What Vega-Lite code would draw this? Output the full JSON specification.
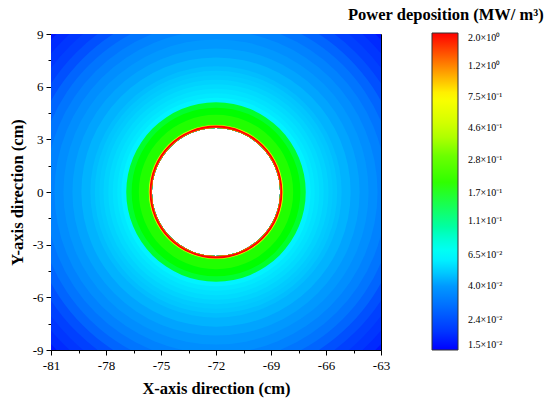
{
  "$schema": "https://vega.github.io/schema/vega-lite/v6.json",
  "width": 330,
  "height": 316,
  "autosize": {"type": "none"},
  "padding": {"left": 51, "top": 34, "right": 169, "bottom": 59},
  "background": "white",
  "title": {
    "text": "Power deposition (MW/ m³)",
    "anchor": "start",
    "frame": "group",
    "dx": 297,
    "offset": 5,
    "font": "Liberation Serif",
    "fontSize": 16.5,
    "fontWeight": "bold",
    "color": "black"
  },
  "data": {
    "values": [
      {"r": 13.0, "v": 0.016},
      {"r": 12.5, "v": 0.018},
      {"r": 12.0, "v": 0.020},
      {"r": 11.5, "v": 0.022},
      {"r": 11.0, "v": 0.025},
      {"r": 10.5, "v": 0.028},
      {"r": 10.0, "v": 0.031},
      {"r": 9.5, "v": 0.034},
      {"r": 9.0, "v": 0.037},
      {"r": 8.5, "v": 0.040},
      {"r": 8.0, "v": 0.042},
      {"r": 7.5, "v": 0.045},
      {"r": 7.0, "v": 0.047},
      {"r": 6.75, "v": 0.049},
      {"r": 6.5, "v": 0.050},
      {"r": 6.25, "v": 0.052},
      {"r": 6.0, "v": 0.054},
      {"r": 5.75, "v": 0.056},
      {"r": 5.5, "v": 0.058},
      {"r": 5.25, "v": 0.061},
      {"r": 5.0, "v": 0.16},
      {"r": 4.7, "v": 0.17},
      {"r": 4.3, "v": 0.185},
      {"r": 3.78, "v": 0.2},
      {"r": 3.73, "v": 0.6},
      {"r": 3.7, "v": 2.0},
      {"r": 3.6, "v": 1.5}
    ]
  },
  "mark": {"type": "arc", "clip": true, "theta": 0, "theta2": 6.2832},
  "encoding": {
    "x": {
      "datum": -72,
      "type": "quantitative",
      "scale": {"domain": [-81, -63], "nice": false, "zero": false},
      "axis": {
        "title": "X-axis direction (cm)",
        "values": [-81, -79.5, -78, -76.5, -75, -73.5, -72, -70.5, -69, -67.5, -66, -64.5, -63],
        "labelExpr": "abs(datum.value % 3) < 0.01 ? '' + datum.value : ''",
        "tickSize": {"condition": {"test": "abs(datum.value % 3) < 0.01", "value": 5}, "value": 3},
        "labelPadding": 4,
        "titlePadding": 8
      }
    },
    "y": {
      "datum": 0,
      "type": "quantitative",
      "scale": {"domain": [-9, 9], "nice": false, "zero": false},
      "axis": {
        "title": "Y-axis direction (cm)",
        "values": [-9, -7.5, -6, -4.5, -3, -1.5, 0, 1.5, 3, 4.5, 6, 7.5, 9],
        "labelExpr": "abs(datum.value % 3) < 0.01 ? '' + datum.value : ''",
        "tickSize": {"condition": {"test": "abs(datum.value % 3) < 0.01", "value": 5}, "value": 3},
        "labelPadding": 3,
        "titlePadding": 7
      }
    },
    "radius": {
      "field": "r",
      "type": "quantitative",
      "scale": {"type": "linear", "domain": [0, 13], "range": [0, 233.35], "zero": true}
    },
    "radius2": {"datum": 3.57},
    "color": {
      "field": "v",
      "type": "quantitative",
      "scale": {
        "type": "log",
        "domain": [0.015, 0.024, 0.04, 0.065, 0.11, 0.17, 0.28, 0.46, 0.75, 1.2, 2.0],
        "range": ["#0000ff", "#0048ff", "#0098ff", "#00ffff", "#00ff88", "#00ff00", "#55ff00", "#c8ff00", "#ffff00", "#ff8800", "#ff0000"]
      },
      "legend": {
        "title": null,
        "orient": "none",
        "legendX": 381,
        "legendY": -1,
        "direction": "vertical",
        "gradientLength": 317,
        "gradientThickness": 26,
        "gradientStrokeColor": "#333333",
        "gradientStrokeWidth": 1,
        "values": [0.015, 0.024, 0.04, 0.065, 0.11, 0.17, 0.28, 0.46, 0.75, 1.2, 2.0],
        "labelExpr": "datum.value >= 1 ? format(datum.value, '.1f') + '×10⁰' : datum.value >= 0.1 ? format(datum.value * 10, '.1f') + '×10⁻¹' : format(datum.value * 100, '.1f') + '×10⁻²'",
        "labelFont": "Liberation Serif",
        "labelFontSize": 10,
        "labelColor": "black",
        "labelOffset": 10,
        "labelBaseline": "middle",
        "labelOverlap": false
      }
    }
  },
  "config": {
    "font": "Liberation Serif",
    "view": {"stroke": "black", "strokeWidth": 1},
    "axis": {
      "grid": false,
      "domainColor": "black",
      "tickColor": "black",
      "labelColor": "black",
      "labelFont": "Liberation Serif",
      "labelFontSize": 13,
      "labelFlush": false,
      "labelOverlap": false,
      "titleColor": "black",
      "titleFont": "Liberation Serif",
      "titleFontSize": 16.5,
      "titleFontWeight": "bold"
    }
  }
}
